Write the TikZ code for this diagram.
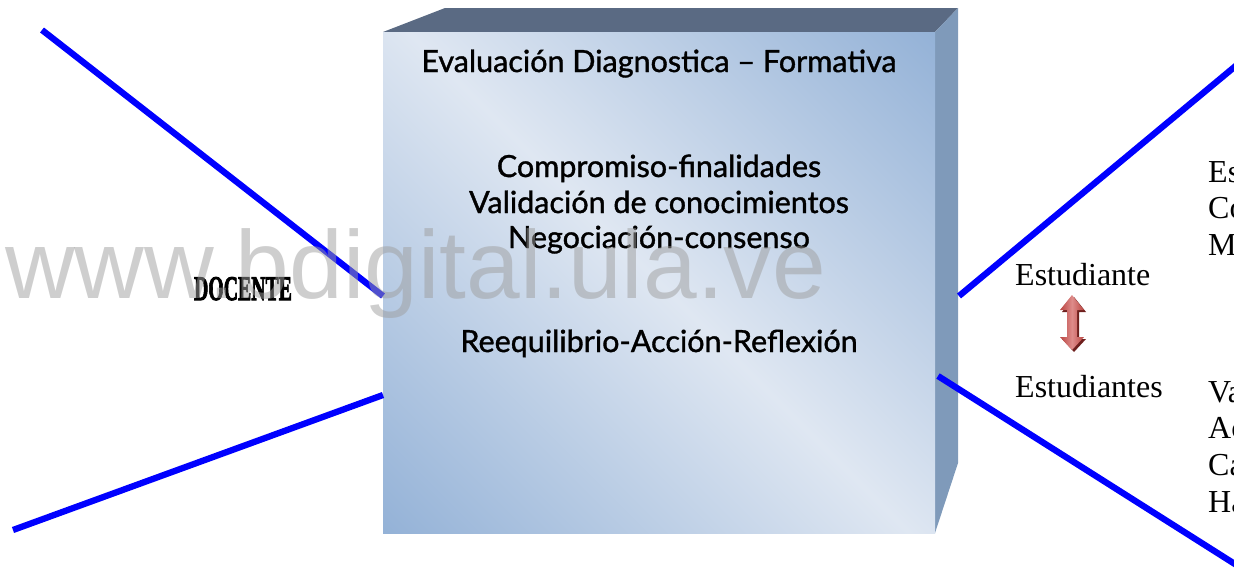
\documentclass[tikz,border=0pt]{standalone}
\usepackage{fontspec}
\setmainfont{Liberation Serif}
\newfontfamily\cubefont{Lato}[FakeBold=1.2]
\newfontfamily\docfont{Liberation Serif}[BoldFeatures={FakeBold=3}]
\newfontfamily\wmfont{Liberation Sans}
\definecolor{faceLight}{HTML}{DFE7F2}
\definecolor{faceDark}{HTML}{94B2D7}
\definecolor{topFace}{HTML}{5A6A83}
\definecolor{sideFace}{HTML}{7F9ABA}
\definecolor{lineBlue}{HTML}{0000FF}
\definecolor{arrowRed}{HTML}{BA4542}
\definecolor{arrowLight}{HTML}{DE8C8A}
\definecolor{arrowDark}{HTML}{6E1F1D}
\definecolor{wmGray}{HTML}{9E9E9E}
\tikzset{
  cubetext/.style={anchor=base, inner sep=0pt, font=\cubefont\fontsize{30.5}{33}\selectfont},
  sidetext/.style={anchor=base west, inner sep=0pt, font=\fontsize{32}{36}\selectfont},
  bluelink/.style={draw=lineBlue, line width=6.3pt},
}
\begin{document}
\begin{tikzpicture}[x=1pt,y=-1pt]
\useasboundingbox (0,0) rectangle (1234,571);
% cube: top and side faces
\fill[topFace] (383,32) -- (445,8) -- (958,8) -- (935,32) -- cycle;
\fill[sideFace] (935,32) -- (958,8) -- (958,463) -- (935,533) -- cycle;
% front face with diagonal gradient
\begin{scope}
  \clip (383,32) rectangle (935,533);
  \shade[top color=faceDark, bottom color=faceDark, middle color=faceLight, shading angle=-45]
    (287,-89.5) rectangle (1031,654.5);
\end{scope}
% cube texts
\node[cubetext] (title) at (659,72) {Evaluación Diagnostica – Formativa};
\node[cubetext] (t1) at (659,177) {Compromiso-finalidades};
\node[cubetext] (t2) at (659,213) {Validación de conocimientos};
\node[cubetext] (t3) at (659,248) {Negociación-consenso};
\node[cubetext] (t4) at (659,352) {Reequilibrio-Acción-Reflexión};
% connector end points
\coordinate (c1) at (383,296);
\coordinate (c2) at (383,395);
\coordinate (c3) at (959,296);
\coordinate (c4) at (938,376);
\coordinate (f1) at (42,30);
\coordinate (f2) at (13,530);
\coordinate (f3) at (1238,64);
\coordinate (f4) at (1238,566);
\draw[bluelink] (f1) -- (c1);
\draw[bluelink] (f2) -- (c2);
\draw[bluelink] (c3) -- (f3);
\draw[bluelink] (c4) -- (f4);
% DOCENTE
\node[anchor=base, inner sep=0pt] (docente) at (243,300)
  {\scalebox{0.6}[1.05]{\docfont\fontsize{33}{33}\selectfont\bfseries DOCENTE}};
% right side texts
\node[sidetext] (est1) at (1015,285) {Estudiante};
\node[sidetext] (est2) at (1015,397) {Estudiantes};
\node[sidetext] (r1) at (1208,182) {Es};
\node[sidetext] (r2) at (1208,218) {Co};
\node[sidetext] (r3) at (1208,255) {M};
\node[sidetext] (r4) at (1208,402) {Va};
\node[sidetext] (r5) at (1208,438) {Ac};
\node[sidetext] (r6) at (1208,475) {Ca};
\node[sidetext] (r7) at (1208,512) {Ha};
% double arrow
\fill[arrowDark] (1074,297) -- (1086,312) -- (1079,312) -- (1079,339) -- (1086,339) -- (1074,352)
  -- (1062,339) -- (1069,339) -- (1069,312) -- (1062,312) -- cycle;
\shade[left color=arrowRed, right color=arrowRed, middle color=arrowLight]
  (1072,295) -- (1084,310) -- (1077,310) -- (1077,337) -- (1084,337) -- (1072,350)
  -- (1060,337) -- (1067,337) -- (1067,310) -- (1060,310) -- cycle;
% watermark
\node[anchor=base west, inner sep=0pt, text=wmGray, text opacity=0.5] (wm) at (5,298)
  {\wmfont\fontsize{96.5}{97}\selectfont www.bdigital.ula.ve};
\end{tikzpicture}
\end{document}
